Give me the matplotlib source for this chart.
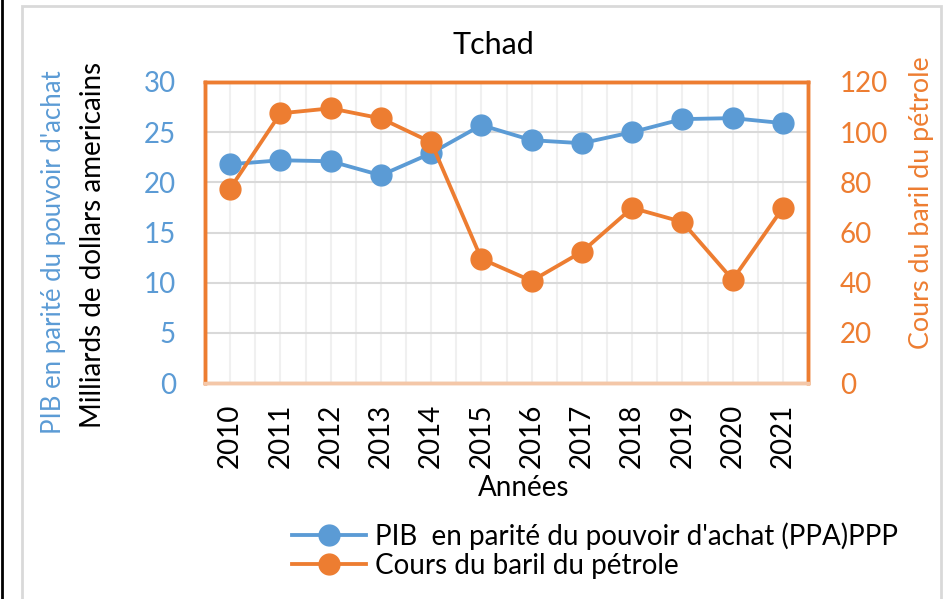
import matplotlib
matplotlib.use("Agg")
import matplotlib.pyplot as plt
from matplotlib.patches import Rectangle
import numpy as np

years = ["2010", "2011", "2012", "2013", "2014", "2015", "2016", "2017", "2018", "2019", "2020", "2021"]
pib = [21.8, 22.2, 22.1, 20.7, 22.9, 25.7, 24.2, 23.9, 25.0, 26.3, 26.4, 25.9]
petrole = [77.5, 107.5, 109.5, 105.5, 96.0, 49.5, 40.7, 52.3, 69.8, 64.2, 41.2, 69.8]

BLUE = "#5B9BD5"
ORANGE = "#ED7D31"
plt.rcParams['font.family'] = ['Lato', 'DejaVu Sans']
FS = 20

W, H = 946, 599
fig = plt.figure(figsize=(9.46, 5.99), dpi=100)
fig.patches.append(Rectangle((22 / W, -0.01), (941 - 22) / W, 1 - 6 / H + 0.01,
                             transform=fig.transFigure, fill=False,
                             edgecolor="#D9D9D9", lw=2))
fig.add_artist(plt.Line2D([1.5 / W, 1.5 / W], [0, 1], color="black", lw=2,
                          transform=fig.transFigure))

ax = fig.add_axes([205 / W, 1 - 383 / H, (808 - 205) / W, (383 - 82) / H])
x = np.arange(len(years))
ax.set_xlim(-0.5, len(years) - 0.5)
ax.set_ylim(0, 30)
ax.set_yticks(np.arange(0, 31, 5))
ax.set_xticks(x)
ax.set_xticks(x[:-1] + 0.5, minor=True)
ax.set_xticklabels(years, rotation=90, fontsize=FS)
ax.tick_params(axis='x', which='both', length=0, pad=15)
ax.tick_params(axis='y', length=0, labelcolor=BLUE, labelsize=FS, pad=21)
ax.grid(axis='y', color="#D9D9D9", lw=1.5, zorder=0)
ax.grid(axis='x', which='both', color="#F0F0F0", lw=1.5, zorder=0)
ax.set_axisbelow(True)

mk = dict(lw=2.75, marker='o', markersize=15, zorder=3)
l1, = ax.plot(x, pib, color=BLUE, label="PIB  en parité du pouvoir d'achat (PPA)PPP", **mk)

ax2 = ax.twinx()
ax2.set_ylim(0, 120)
ax2.set_yticks(np.arange(0, 121, 20))
ax2.tick_params(axis='y', length=0, labelcolor=ORANGE, labelsize=FS, pad=23)
l2, = ax2.plot(x, petrole, color=ORANGE, label="Cours du baril du pétrole", **mk)

for a in (ax, ax2):
    for s in ('left', 'right', 'top'):
        a.spines[s].set_color(ORANGE)
        a.spines[s].set_linewidth(2.5)
    a.spines['bottom'].set_color("#F4C7A8")
    a.spines['bottom'].set_linewidth(2.5)

fig.text(524 / W, 1 - 488 / H, "Années", fontsize=FS, ha='center', va='center')
fig.text(493 / W, 1 - 45 / H, "Tchad", fontsize=22, ha='center', va='center')
fig.text(53 / W, 1 - 252 / H, "PIB en parité du pouvoir d'achat", rotation=90,
         color=BLUE, fontsize=18.5, ha='center', va='center')
fig.text(93 / W, 1 - 245 / H, "Milliards de dollars americains", rotation=90,
         color='black', fontsize=FS, ha='center', va='center')
fig.text(921 / W, 1 - 203 / H, "Cours du baril du pétrole", rotation=90,
         color=ORANGE, fontsize=19.4, ha='center', va='center')

fig.legend(handles=[l1, l2], loc='center left', bbox_to_anchor=(292 / W, 1 - 550.5 / H),
           frameon=False, fontsize=FS, handlelength=2.66, labelspacing=0.12,
           borderaxespad=0, borderpad=0, handletextpad=0.33)

fig.savefig("out.png", dpi=100)
